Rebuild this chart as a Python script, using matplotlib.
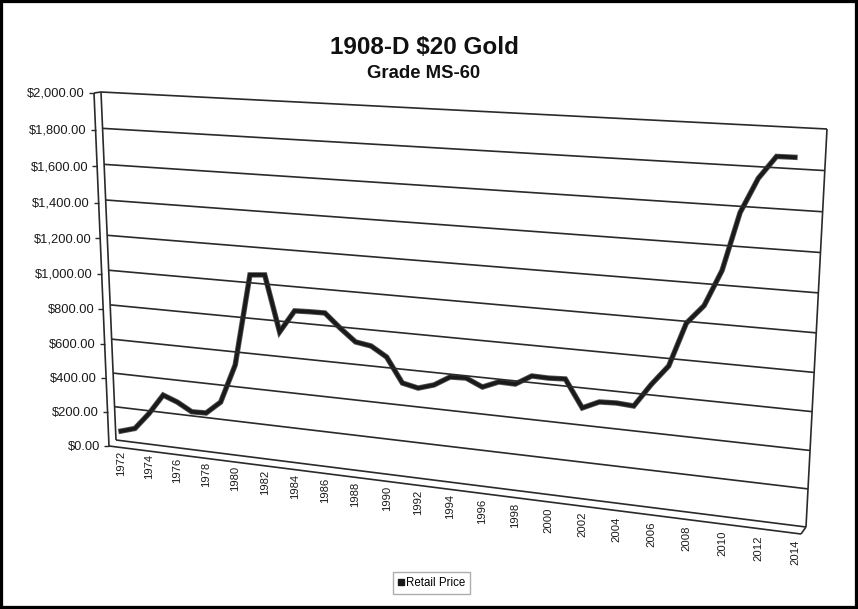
import numpy as np
import matplotlib
matplotlib.use("Agg")
import matplotlib.pyplot as plt
from matplotlib.transforms import Affine2D
from matplotlib.lines import Line2D
from matplotlib.patches import Rectangle

# ---------------- data ----------------
years = list(range(1972, 2015))
prices = [85, 100, 185, 290, 250, 195, 188, 250, 462, 975,
          975, 650, 770, 765, 758, 672, 593, 570, 507, 359,
          330, 348, 393, 387, 336, 365, 353, 399, 387, 382,
          217, 251, 245, 228, 350, 456, 700, 800, 1000, 1330,
          1525, 1650, 1645]
y_ticks = [0, 200, 400, 600, 800, 1000, 1200, 1400, 1600, 1800, 2000]
x_tick_years = list(range(1972, 2015, 2))
title = "1908-D $20 Gold"
subtitle = "Grade MS-60"
series_name = "Retail Price"

# ---------------- figure ----------------
W, H = 858, 609
plt.rcParams['font.family'] = ['Liberation Sans', 'DejaVu Sans']
fig = plt.figure(figsize=(W / 100, H / 100), dpi=100)
pix = Affine2D().scale(1 / W, -1 / H).translate(0, 1) + fig.transFigure

# perspective along the depth of the x axis
R = 1.153
y0, y1 = years[0], years[-1]


def fwd(x):
    s = (np.asarray(x, float) - y0) / (y1 - y0)
    return s / (R - (R - 1) * s)


def inv(f):
    f = np.asarray(f, float)
    s = f * R / (1 - f + f * R)
    return y0 + (y1 - y0) * s


# axes: 1972 -> px 121, 2014 -> px 795 ; $0 -> py 446, $2000 -> py 95
ax = fig.add_axes([121 / W, 1 - 446 / H, 674 / W, (446 - 95) / H])
ax.set_xscale('function', functions=(fwd, inv))
ax.set_xlim(y0, y1)
ax.set_ylim(0, 2000)
ax.axis('off')

# ---------------- perspective frame ----------------
Q = 1.05
TL, BL = (101, 92), (116, 440)
TR, BR = (827, 129), (806, 527)
DX, DY_TOP, DY_BOT = -7, 1, 6
gc = '#2a2a2a'


def g(v):
    u = v / 2000.0
    return u / (u + Q * (1 - u))


def left_pt(v):
    t = g(v)
    return BL[0] + (TL[0] - BL[0]) * t, BL[1] + (TL[1] - BL[1]) * t


def right_pt(v):
    t = g(v)
    return BR[0] + (TR[0] - BR[0]) * t, BR[1] + (TR[1] - BR[1]) * t


def outer_pt(v):
    x, y = left_pt(v)
    t = g(v)
    return x + DX, y + DY_TOP + (DY_BOT - DY_TOP) * (1 - t)


def seg(p, q, lw=1.2, color=gc):
    fig.add_artist(Line2D([p[0], q[0]], [p[1], q[1]], transform=pix,
                          lw=lw, color=color, solid_capstyle='butt'))


for v in y_ticks:
    L = left_pt(v)
    Rr = right_pt(v)
    O = outer_pt(v)
    seg(L, Rr)
    seg((O[0] - 5, O[1]), O, lw=1.0)
    fig.text((O[0] - 9) / W, 1 - (O[1] + 1) / H, f"${v:,.2f}",
             ha='right', va='center', fontsize=9.3, color='#1a1a1a')

# wall edges
seg(left_pt(0), left_pt(2000))
seg(outer_pt(0), outer_pt(2000))
seg(outer_pt(2000), left_pt(2000))
seg(right_pt(0), right_pt(2000))
# floor front edge and corners
front_L = outer_pt(0)
front_R = (BR[0] + DX + 2, BR[1] + 7)
seg(front_L, front_R)
seg(right_pt(0), front_R)


def front_y(px):
    return front_L[1] + (front_R[1] - front_L[1]) * (px - front_L[0]) / (front_R[0] - front_L[0])


# ---------------- series ----------------
ax.plot(years, prices, color='#555555', lw=3.9, solid_joinstyle='miter', clip_on=False)
ax.plot(years, prices, color='#1a1a1a', lw=2.7, solid_joinstyle='miter', clip_on=False)

# ---------------- x labels ----------------
for yr in x_tick_years:
    disp = ax.transData.transform((yr, 0))
    px = disp[0] * W / fig.bbox.width
    frac = (px - front_L[0]) / (front_R[0] - front_L[0])
    py = front_y(px) + 3 + 4 * frac
    fig.text(px / W, 1 - py / H, str(yr), rotation=90, ha='center', va='top',
             fontsize=8.1, color='#1a1a1a')

# ---------------- titles ----------------
fig.text(424 / W, 1 - 47 / H, title, ha='center', va='center',
         fontsize=17.5, fontweight='bold', color='#111111')
fig.text(424 / W, 1 - 73 / H, subtitle, ha='center', va='center',
         fontsize=13.3, fontweight='bold', color='#111111')

# ---------------- legend ----------------
handle = Line2D([], [], color='#1a1a1a', marker='s', markersize=5, lw=0)
leg = fig.legend([handle], [series_name], loc='center',
                 bbox_to_anchor=(431.5 / W, 1 - 583 / H), fontsize=8.3,
                 frameon=True, fancybox=False, edgecolor='#999999',
                 handlelength=0.5, handletextpad=0.15, borderpad=0.45,
                 borderaxespad=0)
leg.get_frame().set_linewidth(1.0)

# outer border
fig.add_artist(Rectangle((0, 0), 1, 1, transform=fig.transFigure, fill=False,
                         edgecolor='black', lw=4.5))

fig.savefig('out.png', dpi=100)
